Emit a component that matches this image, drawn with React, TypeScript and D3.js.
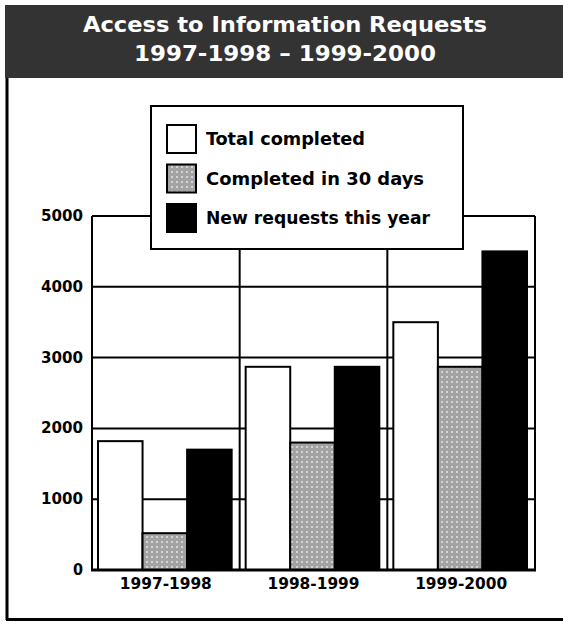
import React from "react";
import * as d3 from "d3";

const categories = ["1997-1998", "1998-1999", "1999-2000"];
const seriesNames = ["Total completed", "Completed in 30 days", "New requests this year"];
const totalCompleted = [1820, 2870, 3500];
const completed30 = [520, 1800, 2870];
const newRequests = [1700, 2870, 4500];
const yTicks = [0, 1000, 2000, 3000, 4000, 5000];
const titleLines = ["Access to Information Requests", "1997-1998 \u2013 1999-2000"];

const W = 563;
const H = 625;
const FONT = "'Liberation Sans Narrow', 'DejaVu Sans Condensed', 'Open Sans', sans-serif";

export default function App() {
  const x0 = 92, x1 = 535, yBottom = 570, yTop = 216;
  const y = d3.scaleLinear().domain([0, 5000]).range([yBottom, yTop]);
  const xBand = d3.scaleBand<string>().domain(categories).range([x0, x1]).padding(0);
  const bw = xBand.bandwidth();
  const xInner = d3.scaleBand<string>().domain(seriesNames).range([6, bw - 8]).padding(0);
  const series = [totalCompleted, completed30, newRequests];
  const fills = ["#ffffff", "url(#dots)", "#000000"];

  return (
    <svg width={W} height={H} style={{ position: "absolute", left: 0, top: 0, background: "#fff" }}>
      <defs>
        <pattern id="dots" x="0" y="0" width="5" height="5" patternUnits="userSpaceOnUse">
          <rect width="5" height="5" fill="#a3a3a3" />
          <rect x="1" y="1" width="2" height="2" fill="#d4d4d4" />
        </pattern>
      </defs>
      {/* title bar */}
      <rect x={5} y={5} width={W - 5} height={73} fill="#333333" />
      {titleLines.map((t, i) => (
        <text key={i} x={285} y={32 + i * 29} textAnchor="middle" fill="#fff" fontFamily={FONT}
          fontWeight="bold" fontSize={21}
          textLength={i === 0 ? 404 : 302} lengthAdjust="spacingAndGlyphs">{t}</text>
      ))}
      {/* frame */}
      <line x1={7} y1={78} x2={7} y2={620} stroke="#000" strokeWidth={3} />
      <line x1={6} y1={619.5} x2={W} y2={619.5} stroke="#000" strokeWidth={3} />

      {/* horizontal gridlines */}
      {yTicks.map((t) => (
        <line key={t} x1={x0} x2={x1} y1={y(t)} y2={y(t)} stroke="#000" strokeWidth={2} />
      ))}
      {/* vertical lines */}
      {[x0, ...categories.slice(1).map((c) => xBand(c)!), x1].map((xx, i) => (
        <line key={i} x1={xx} x2={xx} y1={yTop} y2={yBottom} stroke="#000" strokeWidth={2} />
      ))}
      {/* y labels */}
      {yTicks.map((t) => (
        <text key={t} x={83} y={y(t) + 5} textAnchor="end" fontFamily={FONT} fontWeight="bold" fontSize={16}
          {...(t > 0 ? { textLength: 42, lengthAdjust: "spacingAndGlyphs" } : {})}>{t}</text>
      ))}
      {/* bars */}
      {categories.map((c, ci) =>
        series.map((s, si) => {
          const bx = xBand(c)! + xInner(seriesNames[si])!;
          return (
            <rect key={c + si} x={bx} y={y(s[ci])} width={xInner.bandwidth()} height={yBottom - y(s[ci])}
              fill={fills[si]} stroke="#000" strokeWidth={2} />
          );
        })
      )}
      {/* axis bottom */}
      <line x1={x0 - 1} x2={x1 + 1} y1={yBottom} y2={yBottom} stroke="#000" strokeWidth={3} />
      {categories.map((c) => (
        <text key={c} x={xBand(c)! + bw / 2} y={589} textAnchor="middle" fontFamily={FONT} fontWeight="bold" fontSize={16}
          textLength={92} lengthAdjust="spacingAndGlyphs">{c}</text>
      ))}

      {/* legend */}
      <rect x={151} y={106} width={312} height={143} fill="#fff" stroke="#000" strokeWidth={2} />
      {seriesNames.map((n, i) => (
        <g key={n}>
          <rect x={167} y={125 + i * 39.5} width={29} height={28} fill={fills[i]} stroke="#000" strokeWidth={2} />
          <text x={206} y={145 + i * 39.5} fontFamily={FONT} fontWeight="bold" fontSize={18}
            textLength={[159, 218, 224][i]} lengthAdjust="spacingAndGlyphs">{n}</text>
        </g>
      ))}
    </svg>
  );
}
